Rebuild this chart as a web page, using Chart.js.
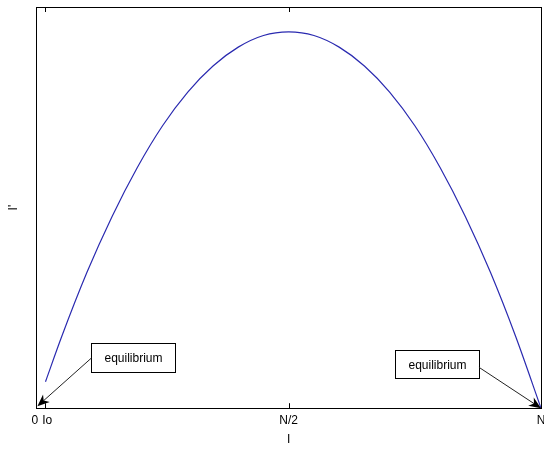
<!DOCTYPE html>
<html>
<head>
<meta charset="utf-8">
<script src="https://cdn.jsdelivr.net/npm/chart.js@4.4.0/dist/chart.umd.min.js"></script>
<style>
  html, body { margin: 0; padding: 0; background: #fff; }
  #wrap { width: 544px; height: 450px; }
</style>
</head>
<body>
<div id="wrap"><canvas id="grafico"></canvas></div>
<script>
// I in percent of N, I' as a share of the axis height
var valoresI = [1.8, 5, 10, 15, 20, 25, 30, 35, 40, 45, 50, 55, 60, 65, 70, 75, 80, 85, 90, 95, 100];
var valoresDI = [0.066, 0.178, 0.338, 0.478, 0.600, 0.704, 0.788, 0.853, 0.900, 0.929, 0.938,
                 0.929, 0.900, 0.853, 0.788, 0.704, 0.600, 0.478, 0.338, 0.178, 0.000];
var ticksX = [0, 1.8, 50, 100];
var rotulosX = ['0 ', ' Io', 'N/2', 'N'];

var notas = [
    { texto: 'equilibrium', x0: 10.9, x1: 27.4, y0: 0.090, y1: 0.162, caudaX: 10.9, caudaY: 0.125, pontaX: 0.2, pontaY: 0.005 },
    { texto: 'equilibrium', x0: 71.0, x1: 87.7, y0: 0.075, y1: 0.145, caudaX: 87.7, caudaY: 0.102, pontaX: 100, pontaY: 0 }
];

var pontos = [];
for (var i = 0; i < valoresI.length; i++) {
    pontos.push({ x: valoresI[i], y: valoresDI[i] });
}

function seta(ctx, x1, y1, x2, y2) {
    var ang = Math.atan2(y2 - y1, x2 - x1);
    var len = 12, larg = 5;
    var bx = x2 - len * Math.cos(ang), by = y2 - len * Math.sin(ang);
    var mx = x2 - (len * 0.7) * Math.cos(ang), my = y2 - (len * 0.7) * Math.sin(ang);
    ctx.beginPath();
    ctx.moveTo(x1, y1);
    ctx.lineTo(mx, my);
    ctx.stroke();
    ctx.beginPath();
    ctx.moveTo(x2, y2);
    ctx.lineTo(bx + larg * Math.sin(ang), by - larg * Math.cos(ang));
    ctx.lineTo(mx, my);
    ctx.lineTo(bx - larg * Math.sin(ang), by + larg * Math.cos(ang));
    ctx.closePath();
    ctx.fill();
}

var caixaPlugin = {
    id: 'caixa',
    afterDatasetsDraw: function (chart) {
        var ctx = chart.ctx;
        var a = chart.chartArea;
        var sx = chart.scales.x, sy = chart.scales.y;
        ctx.save();
        ctx.strokeStyle = '#000';
        ctx.fillStyle = '#000';
        ctx.lineWidth = 1;
        ctx.strokeRect(Math.round(a.left) + 0.5, Math.round(a.top) + 0.5,
            Math.round(a.right - a.left), Math.round(a.bottom - a.top));
        // ticks para dentro, embaixo e em cima
        ticksX.forEach(function (v) {
            var px = Math.round(sx.getPixelForValue(v)) + 0.5;
            ctx.beginPath();
            ctx.moveTo(px, a.bottom);
            ctx.lineTo(px, a.bottom - 5);
            ctx.moveTo(px, a.top);
            ctx.lineTo(px, a.top + 5);
            ctx.stroke();
        });
        // anotacoes
        ctx.font = '12px "Liberation Sans", Arial, sans-serif';
        ctx.textAlign = 'center';
        ctx.textBaseline = 'middle';
        notas.forEach(function (n) {
            var l = Math.round(sx.getPixelForValue(n.x0)) + 0.5;
            var r = Math.round(sx.getPixelForValue(n.x1)) + 0.5;
            var t = Math.round(sy.getPixelForValue(n.y1)) + 0.5;
            var b = Math.round(sy.getPixelForValue(n.y0)) + 0.5;
            ctx.fillStyle = '#fff';
            ctx.fillRect(l, t, r - l, b - t);
            ctx.strokeStyle = '#000';
            ctx.strokeRect(l, t, r - l, b - t);
            ctx.fillStyle = '#000';
            ctx.fillText(n.texto, (l + r) / 2, (t + b) / 2 + 1);
            ctx.strokeStyle = '#222';
            seta(ctx, sx.getPixelForValue(n.caudaX), sy.getPixelForValue(n.caudaY),
                sx.getPixelForValue(n.pontaX), sy.getPixelForValue(n.pontaY));
        });
        ctx.restore();
    }
};

var fonte = { family: '"Liberation Sans", Arial, sans-serif', size: 12 };

new Chart(document.getElementById('grafico'), {
    type: 'line',
    data: {
        datasets: [{
            label: "I'",
            data: pontos,
            borderColor: '#2a2ab0',
            borderWidth: 1.2,
            pointRadius: 0,
            fill: false,
            cubicInterpolationMode: 'monotone'
        }]
    },
    options: {
        responsive: true,
        maintainAspectRatio: false,
        animation: { duration: 0 },
        layout: { autoPadding: false, padding: { left: 0, right: 3, top: 7, bottom: 0 } },
        plugins: { legend: { display: false }, tooltip: { enabled: false } },
        scales: {
            x: {
                type: 'linear',
                min: 0,
                max: 100,
                grid: { display: false, drawTicks: false },
                border: { display: false },
                afterBuildTicks: function (scale) {
                    scale.ticks = ticksX.map(function (v) { return { value: v }; });
                },
                afterFit: function (scale) {
                    scale.paddingLeft = 0;
                    scale.paddingRight = 0;
                },
                ticks: {
                    autoSkip: false,
                    maxRotation: 0,
                    padding: 5,
                    color: '#000',
                    font: fonte,
                    callback: function (v, idx) { return rotulosX[idx]; }
                },
                title: { display: true, text: 'I', color: '#000', font: fonte, padding: { top: 0, bottom: 3 } }
            },
            y: {
                min: 0,
                max: 1,
                grid: { display: false, drawTicks: false },
                border: { display: false },
                ticks: { display: false },
                title: { display: true, text: "I'", color: '#000', font: fonte, padding: { top: 6, bottom: 16 } }
            }
        }
    },
    plugins: [caixaPlugin]
});
</script>
</body>
</html>
